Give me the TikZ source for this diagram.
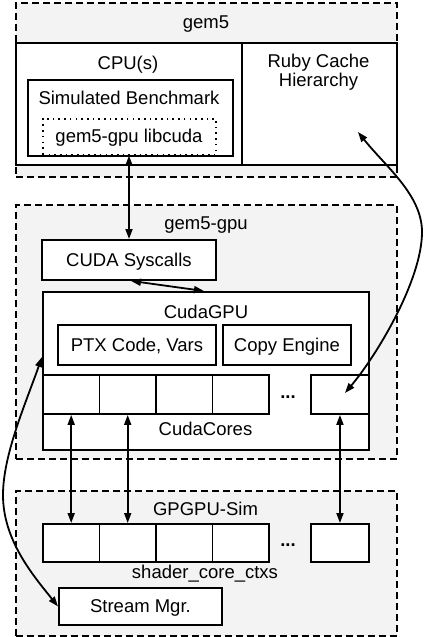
\documentclass[tikz,border=0pt]{standalone}
\usepackage{fontspec}
\setmainfont{Liberation Sans}
\usetikzlibrary{arrows.meta}
\definecolor{panelgray}{RGB}{243,243,243}
\tikzset{
  every node/.style={font=\fontsize{18.5pt}{19pt}\selectfont, inner sep=0pt},
  panel/.style={draw, line width=1.9pt, dash pattern=on 7pt off 4pt, fill=panelgray, anchor=north west},
  box/.style={draw, line width=1.9pt, fill=white, anchor=north west, text height=13pt, text depth=0pt},
  dotbox/.style={draw, line width=1.6pt, dash pattern=on 1.6pt off 4.1pt, anchor=north west},
  cell/.style={draw, line width=1.9pt, fill=white, anchor=north west, minimum width=56.5pt, minimum height=39pt},
  lbl/.style={anchor=base},
  link/.style={line width=1.8pt, {Triangle[length=10pt,width=7pt]}-{Triangle[length=10pt,width=7pt]}}
}
\begin{document}
\begin{tikzpicture}[x=1pt,y=-1pt]
\useasboundingbox (0,0) rectangle (424,637);
% gem5
\node[panel, minimum width=381pt, minimum height=174pt] (gemfive) at (15,2) {};
\node[lbl] (gemfivelbl) at (206,28) {gem5};
\node[box, minimum width=226pt, minimum height=122pt] (cpu) at (15,42) {};
\node[box, minimum width=155pt, minimum height=122pt] (ruby) at (241,42) {};
\node[lbl] (cpulbl) at (128,69) {CPU(s)};
\node[align=center, font=\fontsize{18.5pt}{19pt}\selectfont] (rubylbl) at (318.5,72.7) {Ruby Cache\\Hierarchy};
\node[box, minimum width=205pt, minimum height=76pt] (bench) at (27,79) {};
\node[lbl] (benchlbl) at (129,104) {Simulated Benchmark};
\node[dotbox, minimum width=173pt, minimum height=36pt] (libcuda) at (42,118) {};
\node[lbl] (libcudalbl) at (129,142) {gem5-gpu libcuda};
% gem5-gpu
\node[panel, minimum width=381pt, minimum height=254pt] (gemgpu) at (15,204) {};
\node[lbl] (gemgpulbl) at (206,229) {gem5-gpu};
\node[box, minimum width=174pt, minimum height=40pt] (syscalls) at (41,239) {CUDA Syscalls};
\node[box, minimum width=326pt, minimum height=158pt] (cudagpu) at (42,291) {};
\node[lbl] (cudagpulbl) at (206,318) {CudaGPU};
\node[box, minimum width=158pt, minimum height=40pt] (ptx) at (57,324) {PTX Code, Vars};
\node[box, minimum width=128pt, minimum height=40pt] (copy) at (222,324) {Copy Engine};
\node[cell] (ca) at (42,374) {};
\node[cell] (cb) at (98.5,374) {};
\node[cell] (cc) at (155,374) {};
\node[cell] (cd) at (211.5,374) {};
\node[cell, minimum width=58pt] (ce) at (310,374) {};
\node[lbl, font=\bfseries\fontsize{18.5pt}{19pt}\selectfont] (cdots) at (288,398) {...};
\node[lbl] (coreslbl) at (205.5,435) {CudaCores};
% GPGPU-Sim
\node[panel, minimum width=381pt, minimum height=145pt] (gpgpu) at (15,490) {};
\node[lbl] (gpgpulbl) at (205.5,515) {GPGPU-Sim};
\node[cell, minimum height=38pt] (sa) at (42,523) {};
\node[cell, minimum height=38pt] (sb) at (98.5,523) {};
\node[cell, minimum height=38pt] (sc) at (155,523) {};
\node[cell, minimum height=38pt] (sd) at (211.5,523) {};
\node[cell, minimum height=38pt, minimum width=58pt] (se) at (310,523) {};
\node[lbl, font=\bfseries\fontsize{18.5pt}{19pt}\selectfont] (sdots) at (288,546) {...};
\node[lbl] (shaderlbl) at (205,578) {shader\_core\_ctxs};
\node[box, minimum width=163pt, minimum height=37pt] (stream) at (58,587) {Stream Mgr.};
% connectors
\draw[link] (libcuda.south -| 129,0) -- (syscalls.north -| 129,0);
\draw[link] ([xshift=2pt]syscalls.south) -- ([xshift=-2pt]cudagpu.north);
\draw[link] (ca.south) -- (sa.north);
\draw[link] (cb.south) -- (sb.north);
\draw[link] (ce.south) -- (se.north);
\coordinate (rubyend) at (358,132);
\coordinate (ceend) at (345,393);
\coordinate (rubyturn) at (422,232);
\draw[link] (rubyend) .. controls (386,167) and (422,195) .. (rubyturn)
  .. controls (422,280) and (377,355) .. (ceend);
\coordinate (gpuend) at (42,357);
\coordinate (leftturn) at (3,495);
\draw[link] (gpuend) .. controls (25.4,404) and (3,455) .. (leftturn)
  .. controls (3,540) and (32.8,575) .. (stream.west);
\end{tikzpicture}
\end{document}
